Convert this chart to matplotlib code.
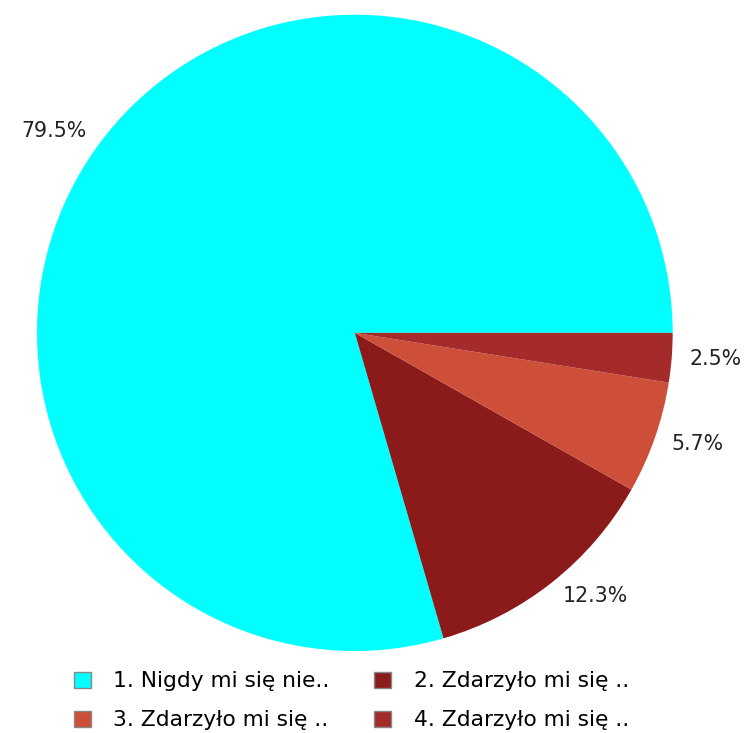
import matplotlib.pyplot as plt

labels = ['1. Nigdy mi się nie..', '2. Zdarzyło mi się ..',
          '3. Zdarzyło mi się ..', '4. Zdarzyło mi się ..']
values = [79.5, 12.3, 5.7, 2.5]
colors = ['#00ffff', '#8b1a1a', '#cd4f39', '#a52a2a']

fig = plt.figure(figsize=(7.47, 7.33), dpi=100)
ax = fig.add_axes([0.0495, 0.1119, 0.851, 0.868])

wedges, texts = ax.pie(values, colors=colors, startangle=0, counterclock=True,
                       labels=['%.1f%%' % v for v in values], labeldistance=1.055,
                       textprops={'fontsize': 14.8, 'color': '#222222'})
ax.set_xlim(-1, 1)
ax.set_ylim(-1, 1)
ax.set_aspect('auto')

# legend fills row by row in the reference
order = [0, 2, 1, 3]
leg = fig.legend([wedges[i] for i in order], [labels[i] for i in order], ncol=2,
                 loc='upper left', bbox_to_anchor=(0.073, 0.111),
                 frameon=False, fontsize=15.7, handlelength=0.75, handleheight=0.75,
                 columnspacing=2.05, labelspacing=0.88, handletextpad=1.05)
for h in leg.legend_handles:
    h.set_edgecolor('#888888')
    h.set_linewidth(1)

fig.savefig('out.png', dpi=100)
